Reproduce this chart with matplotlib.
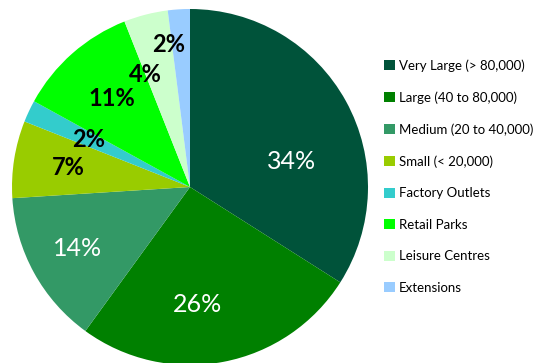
import matplotlib.pyplot as plt
import numpy as np

plt.rcParams['font.family'] = ['Lato', 'DejaVu Sans']

categories = ['Very Large (> 80,000)', 'Large (40 to 80,000)', 'Medium (20 to 40,000)',
              'Small (< 20,000)', 'Factory Outlets', 'Retail Parks',
              'Leisure Centres', 'Extensions']
shares = [34, 26, 14, 7, 2, 11, 4, 2]
colors = ['#00533A', '#008000', '#339966', '#99CC00',
          '#33CCCC', '#00FF00', '#CCFFCC', '#99CCFF']
label_colors = ['white', 'white', 'white', 'black', 'black', 'black', 'black', 'black']
# label distance from centre and angular nudge (degrees) per wedge
label_radius = [0.59, 0.66, 0.72, 0.69, 0.63, 0.66, 0.68, 0.81]
label_shift = [-15, -7, 0, 0, 0, 0, 7, 5]

fig = plt.figure(figsize=(5.42, 3.63), dpi=100)
ax = fig.add_axes([12 / 542, -2 / 363, 356 / 542, 356 / 363])

wedges, _ = ax.pie(shares, colors=colors, startangle=90, counterclock=False,
                   wedgeprops={'linewidth': 0})

for w, val, col, r, sh in zip(wedges, shares, label_colors, label_radius, label_shift):
    mid = np.deg2rad((w.theta1 + w.theta2) / 2 + sh)
    weight = 'normal' if col == 'white' else 'bold'
    ax.text(r * np.cos(mid), r * np.sin(mid), '%d%%' % val, ha='center', va='center',
            fontsize=18 if col == 'white' else 17, color=col, fontweight=weight)

ax.set_xlim(-1, 1)
ax.set_ylim(-1, 1)
ax.set_aspect('equal')
ax.axis('off')

fig.legend(wedges, categories, loc='upper left', bbox_to_anchor=(384 / 542, 1 - 59 / 363),
           frameon=False, fontsize=9.5, handlelength=0.8, handleheight=0.8,
           handletextpad=0.3, labelspacing=1.48, borderpad=0, borderaxespad=0)

plt.savefig('out.png', dpi=100)
